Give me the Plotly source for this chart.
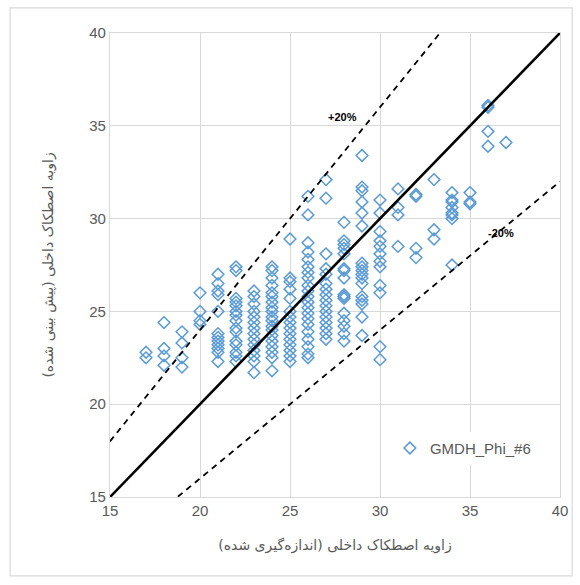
import plotly.graph_objects as go

# Measured vs. predicted internal friction angle (degrees), one row per measured value
measured = (
    [17] * 2 + [18] * 4 + [19] * 4 + [20] * 4 + [21] * 12 + [22] * 15 + [23] * 14
    + [24] * 19 + [25] * 15 + [26] * 21 + [27] * 16 + [28] * 16 + [29] * 17
    + [30] * 12 + [31] * 4 + [32] * 4 + [33] * 3 + [34] * 8 + [35] * 3 + [36] * 4 + [37] * 1
)
predicted = [
    22.8, 22.5,
    24.4, 23.0, 22.6, 22.1,
    23.9, 23.3, 22.5, 22.0,
    26.0, 25.0, 24.5, 24.3,
    27.0, 26.5, 26.1, 25.9, 25.0, 23.8, 23.6, 23.4, 23.2, 23.0, 22.8, 22.3,
    27.4, 27.2, 25.7, 25.5, 25.3, 25.0, 24.8, 24.5, 24.1, 23.9, 23.4, 23.2, 22.8, 22.6, 22.3,
    26.1, 25.8, 25.4, 25.0, 24.7, 24.4, 24.1, 23.8, 23.5, 23.2, 22.9, 22.6, 22.3, 21.7,
    27.4, 27.2, 26.8, 26.4, 26.0, 25.8, 25.5, 25.2, 25.0, 24.7, 24.5, 24.2, 24.0, 23.7,
    23.4, 23.1, 22.8, 22.5, 21.8,
    28.9, 26.8, 26.6, 26.2, 25.7, 25.0, 24.7, 24.4, 24.1, 23.8, 23.5, 23.2, 22.9, 22.6, 22.3,
    31.2, 30.2, 28.7, 28.2, 27.8, 27.4, 27.1, 26.8, 26.4, 26.1, 25.8, 25.5, 25.2, 24.9,
    24.6, 24.3, 23.9, 23.5, 23.1, 22.7, 22.5,
    32.1, 31.1, 28.1, 27.3, 27.0, 26.5, 26.2, 25.9, 25.6, 25.3, 25.0, 24.7, 24.4, 24.1, 23.8, 23.5,
    29.8, 28.8, 28.6, 28.4, 28.1, 27.3, 27.2, 26.8, 25.9, 25.8, 25.7, 24.9, 24.5, 24.2, 23.8, 23.4,
    33.4, 31.7, 31.5, 30.9, 30.3, 29.6, 27.6, 27.4, 27.2, 27.0, 26.8, 26.5, 25.8, 25.6, 25.4, 24.7, 23.7,
    31.0, 30.3, 29.3, 28.8, 28.5, 28.1, 27.7, 27.4, 26.4, 26.0, 23.1, 22.4,
    31.6, 30.6, 30.2, 28.5,
    31.3, 31.2, 28.4, 27.9,
    32.1, 29.4, 28.9,
    31.4, 31.0, 30.9, 30.6, 30.3, 30.2, 30.0, 27.5,
    31.4, 30.9, 30.8,
    36.1, 36.0, 34.7, 33.9,
    34.1,
]

# Reference lines: 1:1 and +/-20 %
line_x = [15, 40]
upper_factor = 1.2
lower_factor = 0.8
axis_ticks = [15, 20, 25, 30, 35, 40]

series_name = "GMDH_Phi_#6"
x_title = "زاویه اصطکاک داخلی (اندازه‌گیری شده)"
y_title = "زاویه اصطکاک داخلی (پیش بینی شده)"

grey = "#595959"
grid = "#d9d9d9"
blue = "#5b9bd5"

fig = go.Figure()

fig.add_trace(go.Scatter(
    x=measured, y=predicted, mode="markers", name=series_name,
    marker=dict(symbol="diamond-open", size=9, color=blue, line=dict(width=1.5, color=blue)),
))

fig.add_trace(go.Scatter(
    x=line_x, y=line_x, mode="lines", showlegend=False,
    line=dict(color="black", width=2.6),
))
fig.add_trace(go.Scatter(
    x=line_x, y=[v * upper_factor for v in line_x], mode="lines", showlegend=False,
    line=dict(color="black", width=1.8, dash="6px,5px"),
))
fig.add_trace(go.Scatter(
    x=line_x, y=[v * lower_factor for v in line_x], mode="lines", showlegend=False,
    line=dict(color="black", width=1.8, dash="6px,5px"),
))

fig.add_annotation(x=27.9, y=35.5, text="<b>+20%</b>", showarrow=False,
                   font=dict(family="Liberation Sans", size=11, color="black"))
fig.add_annotation(x=36.7, y=29.2, text="<b>-20%</b>", showarrow=False,
                   font=dict(family="Liberation Sans", size=11, color="black"))

# Outer chart frame
fig.add_shape(type="rect", xref="paper", yref="paper",
              x0=-0.222, x1=1.027, y0=-0.17, y1=1.054,
              line=dict(color="#d9d9d9", width=1.2), layer="below")

axis_common = dict(
    tickvals=axis_ticks, showgrid=True, gridcolor=grid, gridwidth=1.3,
    zeroline=False, showline=True, linecolor=grid, linewidth=1.3, mirror=True,
    tickfont=dict(family="Liberation Sans", size=15, color=grey),
    ticks="", fixedrange=True,
)

fig.update_layout(
    width=580, height=585,
    margin=dict(l=110, r=20, t=33, b=88),
    paper_bgcolor="white", plot_bgcolor="white",
    showlegend=True,
    legend=dict(x=0.622, y=0.105, xanchor="left", yanchor="middle",
                bgcolor="white", borderwidth=0,
                font=dict(family="Liberation Sans", size=15, color=grey)),
    xaxis=dict(range=[15, 40], **axis_common,
               title=dict(text=x_title, standoff=22,
                          font=dict(family="DejaVu Sans", size=14, color=grey))),
    yaxis=dict(range=[15, 40], **axis_common,
               title=dict(text=y_title, standoff=32,
                          font=dict(family="DejaVu Sans", size=14, color=grey))),
)

fig.write_html("out.html")
